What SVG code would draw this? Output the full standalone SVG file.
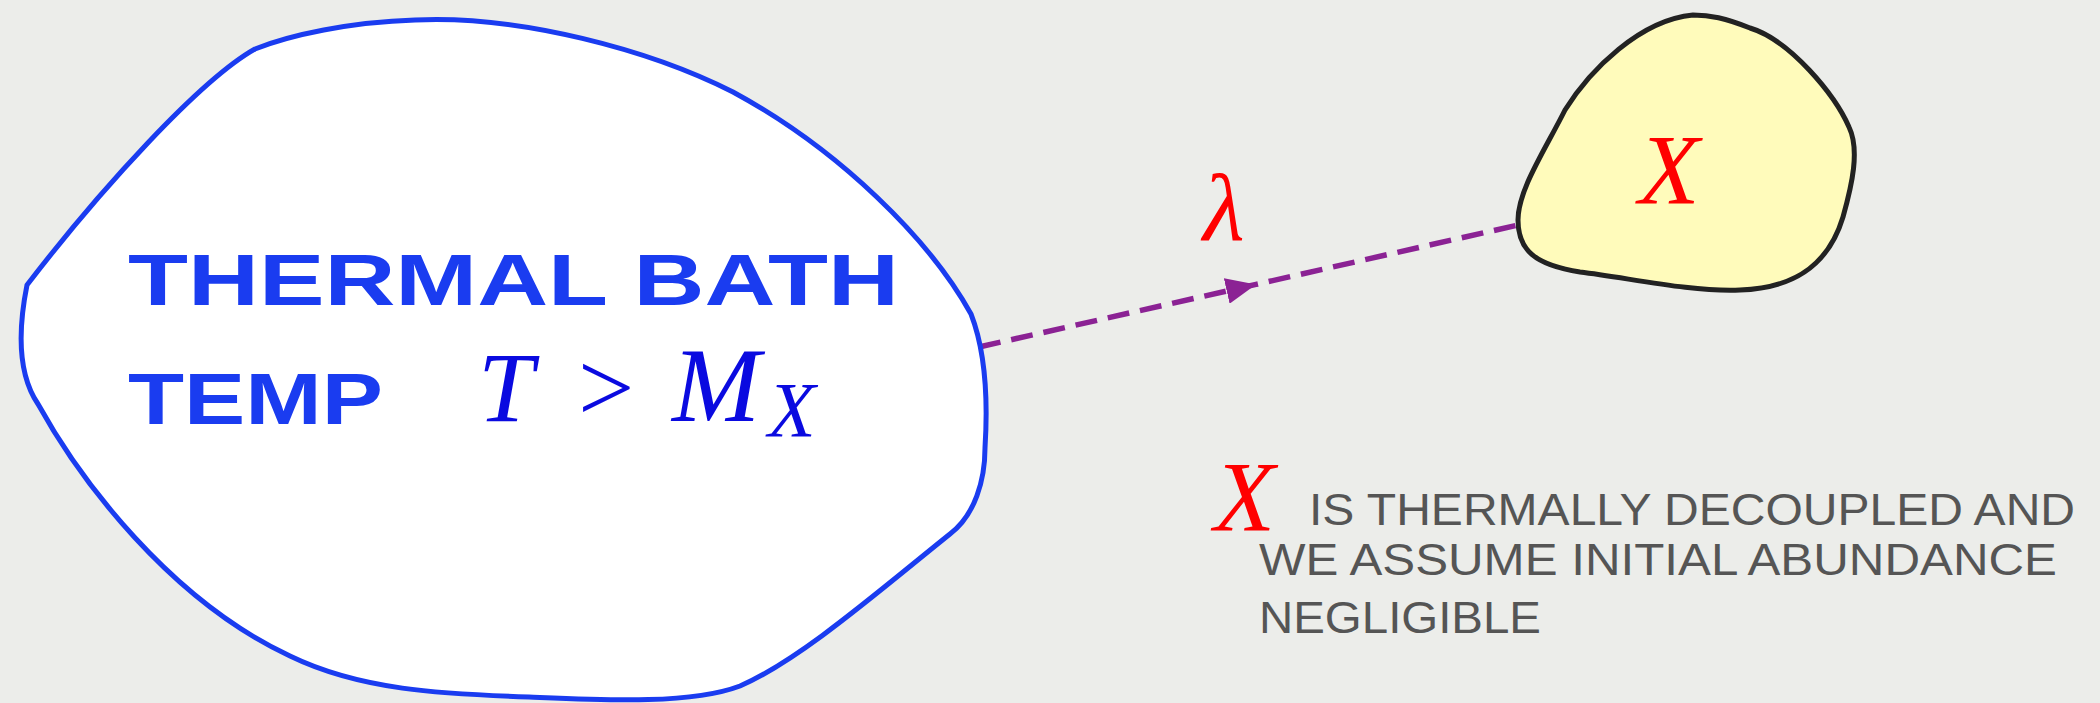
<svg xmlns="http://www.w3.org/2000/svg" width="2100" height="703" viewBox="0 0 2100 703">
<style>
.hand{font-family:"Liberation Sans","DejaVu Sans",sans-serif}
.bathtxt{fill:#1a3cf0;font-weight:bold;font-size:72px}
.note{fill:#555555;font-size:44px}
.math{font-family:"Liberation Serif","DejaVu Serif",serif;font-style:italic}
</style>
<defs>
<marker id="arr" viewBox="0 0 30 26" refX="30" refY="13" markerWidth="30" markerHeight="26" markerUnits="userSpaceOnUse" orient="auto">
<path d="M0,0 L30,13 L0,26 Z" fill="#8b2294"/>
</marker>
</defs>
<rect x="0" y="0" width="2100" height="703" fill="#ecedea"/>
<g id="connectors">
<path d="M979,347 L1256,284.4 L1518,225" fill="none" stroke="#8b2294" stroke-width="5.5" stroke-dasharray="22,11" marker-mid="url(#arr)"/>
</g>
<g id="bath">
<path d="M27,285 C20,320 15,370 38,404 C80,480 170,600 290,656 C360,690 440,694 529,697 C600,700 690,705 740,686 C800,660 880,590 950,534 C975,515 985,480 985,448 C988,400 985,350 971,314 C930,240 840,150 733,92 C650,50 520,15 415,20 C350,22 290,35 255,49 C200,80 100,190 27,285 Z" fill="#ffffff" stroke="#1a3cf0" stroke-width="5"/>
<text class="hand bathtxt" x="128" y="305" textLength="771" lengthAdjust="spacingAndGlyphs">THERMAL BATH</text>
<text class="hand bathtxt" x="128" y="424" textLength="255" lengthAdjust="spacingAndGlyphs">TEMP</text>
<text class="math" x="478" y="421" font-size="100" fill="#0a0ae0">T</text>
<text x="578" y="421" font-size="100" fill="#0a0ae0" font-family="Liberation Serif,serif">&gt;</text>
<text class="math" x="672" y="421" font-size="106" fill="#0a0ae0">M</text>
<text class="math" x="768" y="436" font-size="78" fill="#0a0ae0">X</text>
</g>
<g id="lambda">
<text class="math" x="1203" y="240" font-size="96" fill="#ff0000">λ</text>
</g>
<g id="particle">
<path d="M1693,15 C1640,20 1590,70 1565,110 C1545,150 1518,190 1518,220 C1518,250 1535,265 1580,272 C1630,278 1690,292 1740,290 C1800,288 1830,260 1843,217 C1852,185 1860,150 1849,127 C1835,95 1790,40 1750,28 C1725,18 1710,15 1693,15 Z" fill="#fffbbb" stroke="#222222" stroke-width="5"/>
<text class="math" x="1669" y="203" font-size="100" fill="#ff0000" text-anchor="middle">X</text>
</g>
<g id="note">
<text class="math" x="1214" y="530" font-size="100" fill="#ff0000">X</text>
<text class="hand note" x="1309" y="525" textLength="766" lengthAdjust="spacingAndGlyphs">IS THERMALLY DECOUPLED AND</text>
<text class="hand note" x="1259" y="575" textLength="798" lengthAdjust="spacingAndGlyphs">WE ASSUME INITIAL ABUNDANCE</text>
<text class="hand note" x="1259" y="633" textLength="282" lengthAdjust="spacingAndGlyphs">NEGLIGIBLE</text>
</g>
</svg>
